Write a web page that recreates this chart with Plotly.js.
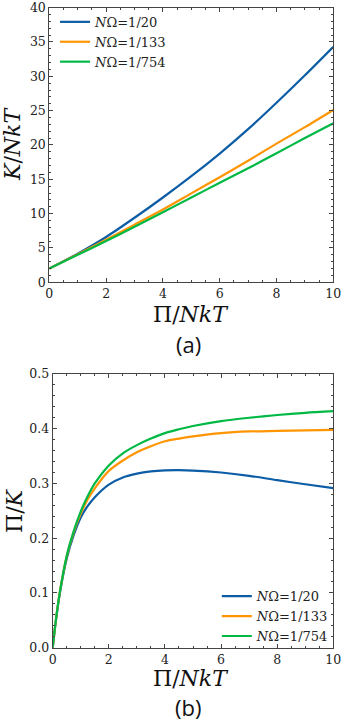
<!DOCTYPE html>
<html>
<head>
<meta charset="utf-8">
<script src="https://cdn.plot.ly/plotly-3.0.1.min.js"></script>
<style>
  html, body { margin: 0; padding: 0; background: #ffffff; }
  #chart { width: 342px; height: 727px; }
</style>
</head>
<body>
<div id="chart"></div>
<script>
// --- DATA ---
const SERIES_NAMES = ['<i>N</i>Ω=1/20', '<i>N</i>Ω=1/133', '<i>N</i>Ω=1/754'];
const SERIES_COLORS = ['#0C5DA5', '#FF9500', '#00B945'];

// (a) K/NkT against Π/NkT
const piA = [0, 1, 2, 3, 4, 5, 6, 7, 8, 9, 10];
const kBlue = [2, 4.17, 6.6, 9.4, 12.35, 15.45, 18.75, 22.3, 26.15, 30.15, 34.3];
const kOrange = [2, 4.08, 6.2, 8.4, 10.6, 12.95, 15.3, 17.7, 20.2, 22.6, 25.1];
const kGreen = [2, 4.0, 6.0, 8.1, 10.2, 12.35, 14.5, 16.6, 18.8, 21.0, 23.15];

// (b) Π/K against Π/NkT
const piB = [0, 0.1, 0.25, 0.5, 0.75, 1, 1.25, 1.5, 2, 2.5, 3, 3.5, 4, 4.5, 5, 6, 7, 8, 9, 10];
const ratioBlue = [0, 0.044, 0.098, 0.163, 0.206, 0.238, 0.259, 0.275, 0.298, 0.311, 0.318, 0.322, 0.3238, 0.3242, 0.3235, 0.320, 0.314, 0.306, 0.2985, 0.2915];
const ratioOrange = [0, 0.045, 0.100, 0.167, 0.211, 0.245, 0.271, 0.291, 0.323, 0.342, 0.357, 0.368, 0.377, 0.382, 0.386, 0.392, 0.395, 0.396, 0.397, 0.398];
const ratioGreen = [0, 0.045, 0.100, 0.168, 0.213, 0.249, 0.277, 0.300, 0.333, 0.355, 0.370, 0.382, 0.392, 0.399, 0.405, 0.414, 0.420, 0.425, 0.429, 0.432];

// --- STYLE ---
const SERIF = 'DejaVu Serif, serif';
const FRAME = '#444444';

function makeTrace(x, y, i, axisSuffix, legendId) {
    return {
        x: x,
        y: y,
        mode: 'lines',
        type: 'scatter',
        name: SERIES_NAMES[i],
        line: { color: SERIES_COLORS[i], width: 2.2, shape: 'spline', smoothing: 0.8 },
        xaxis: 'x' + axisSuffix,
        yaxis: 'y' + axisSuffix,
        legend: legendId,
        hoverinfo: 'x+y'
    };
}

function axisStyle(extra) {
    return Object.assign({
        showgrid: false,
        zeroline: false,
        showline: true,
        linecolor: FRAME,
        linewidth: 1,
        mirror: 'allticks',
        ticks: 'inside',
        ticklen: 4,
        tickwidth: 1,
        tickcolor: FRAME,
        ticklabeloverflow: 'allow',
        tickfont: { family: SERIF, size: 12.5, color: '#222222' }
    }, extra);
}

function minorTicks(step) {
    return { ticks: 'inside', ticklen: 2, tickwidth: 1, tickcolor: FRAME, dtick: step };
}

const traces = [
    makeTrace(piA, kBlue, 0, '', 'legend'),
    makeTrace(piA, kOrange, 1, '', 'legend'),
    makeTrace(piA, kGreen, 2, '', 'legend'),
    makeTrace(piB, ratioBlue, 0, '2', 'legend2'),
    makeTrace(piB, ratioOrange, 1, '2', 'legend2'),
    makeTrace(piB, ratioGreen, 2, '2', 'legend2')
];

const titleFont = { family: SERIF, size: 22, color: '#111111' };
const labelFont = { family: 'Open Sans, sans-serif', size: 22, color: '#111111' };

const layout = {
    width: 342,
    height: 727,
    margin: { l: 0, r: 0, t: 0, b: 0 },
    paper_bgcolor: '#ffffff',
    plot_bgcolor: '#ffffff',
    showlegend: true,
    xaxis: axisStyle({
        domain: [0.1442, 0.9746], range: [0, 10], dtick: 2, tick0: 0,
        minor: minorTicks(0.5), anchor: 'y'
    }),
    yaxis: axisStyle({
        domain: [0.6117, 0.9895], range: [0, 40], dtick: 5, tick0: 0,
        minor: minorTicks(1), anchor: 'x'
    }),
    xaxis2: axisStyle({
        domain: [0.1541, 0.9746], range: [0, 10], dtick: 2, tick0: 0,
        minor: minorTicks(0.5), anchor: 'y2'
    }),
    yaxis2: axisStyle({
        domain: [0.1091, 0.4856], range: [0, 0.5], dtick: 0.1, tick0: 0, tickformat: '.1f',
        minor: minorTicks(0.02), anchor: 'x2'
    }),
    legend: {
        x: 0.161, y: 0.9905, xanchor: 'left', yanchor: 'top',
        bgcolor: 'rgba(0,0,0,0)', borderwidth: 0,
        font: { family: SERIF, size: 13, color: '#222222' },
        tracegroupgap: 0
    },
    legend2: {
        x: 0.634, y: 0.2005, xanchor: 'left', yanchor: 'top',
        bgcolor: 'rgba(0,0,0,0)', borderwidth: 0,
        font: { family: SERIF, size: 13, color: '#222222' },
        tracegroupgap: 0
    },
    annotations: [
        { text: '<i>K</i>/<i>NkT</i>', xref: 'paper', yref: 'paper', x: 13 / 342, y: 1 - 144 / 727,
          textangle: -90, showarrow: false, xanchor: 'center', yanchor: 'middle', font: titleFont },
        { text: 'Π/<i>NkT</i>', xref: 'paper', yref: 'paper', x: 191 / 342, y: 1 - 314 / 727,
          showarrow: false, xanchor: 'center', yanchor: 'middle', font: titleFont },
        { text: '(a)', xref: 'paper', yref: 'paper', x: 188 / 342, y: 1 - 344 / 727,
          showarrow: false, xanchor: 'center', yanchor: 'middle', font: labelFont },
        { text: 'Π/<i>K</i>', xref: 'paper', yref: 'paper', x: 14 / 342, y: 1 - 511 / 727,
          textangle: -90, showarrow: false, xanchor: 'center', yanchor: 'middle', font: titleFont },
        { text: 'Π/<i>NkT</i>', xref: 'paper', yref: 'paper', x: 191 / 342, y: 1 - 678 / 727,
          showarrow: false, xanchor: 'center', yanchor: 'middle', font: titleFont },
        { text: '(b)', xref: 'paper', yref: 'paper', x: 188 / 342, y: 1 - 707 / 727,
          showarrow: false, xanchor: 'center', yanchor: 'middle', font: labelFont }
    ]
};

Plotly.newPlot('chart', traces, layout, { displayModeBar: false, staticPlot: true });
</script>
</body>
</html>
